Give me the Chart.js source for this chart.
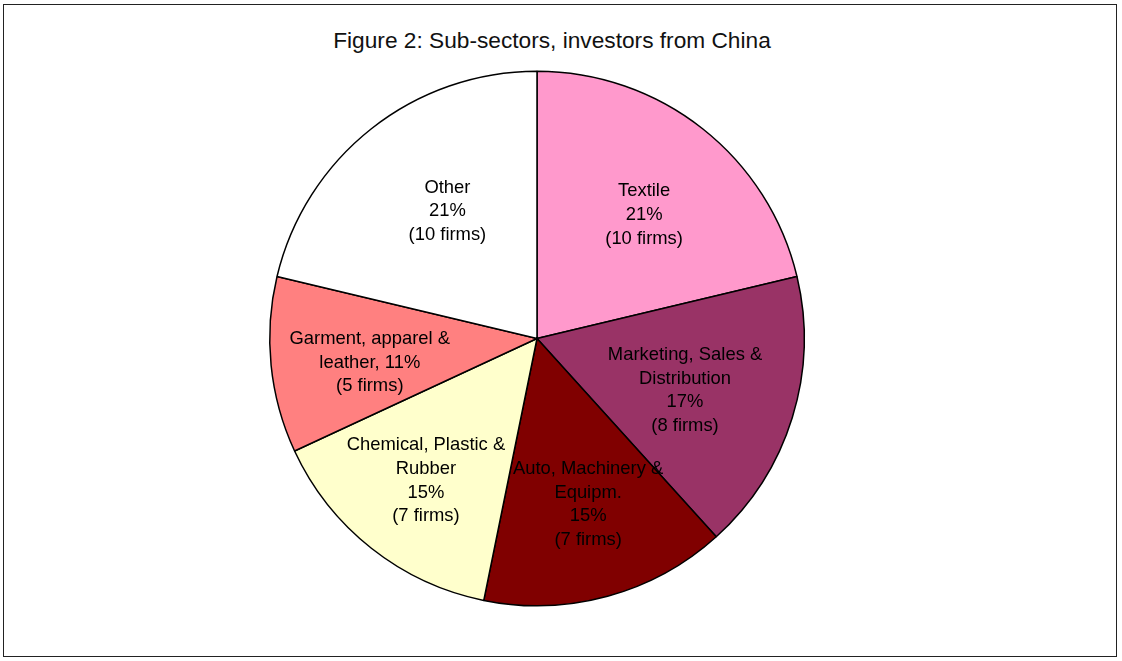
<!DOCTYPE html>
<html>
<head>
<meta charset="utf-8">
<script src="https://cdn.jsdelivr.net/npm/chart.js@4.4.1/dist/chart.umd.min.js"></script>
<style>
  html, body { margin: 0; padding: 0; background: #fff; }
  #wrap { position: relative; width: 1122px; height: 661px; }
  #frame { position: absolute; left: 3px; top: 4px; width: 1114px; height: 653px; border: 1.5px solid #222; box-sizing: border-box; }
  #title { position: absolute; left: 0; width: 1104px; top: 27px; text-align: center; font-family: "Liberation Sans", Arial, sans-serif; font-size: 22.7px; color: #111; }
  canvas { position: absolute; left: 0; top: 0; }
</style>
</head>
<body>
<div id="wrap">
  <div id="frame"></div>
  <div id="title">Figure 2: Sub-sectors, investors from China</div>
  <canvas id="c" width="1122" height="661"></canvas>
</div>
<script>
const categories = ["Textile", "Marketing, Sales & Distribution", "Auto, Machinery & Equipm.", "Chemical, Plastic & Rubber", "Garment, apparel & leather", "Other"];
const firms = [10, 8, 7, 7, 5, 10];
const labelLines = [
  ["Textile"],
  ["Marketing, Sales &", "Distribution"],
  ["Auto, Machinery &", "Equipm."],
  ["Chemical, Plastic &", "Rubber"],
  ["Garment, apparel &", "leather, {p}"],
  ["Other"]
];
const colors = ["#FF99CC", "#993366", "#800000", "#FFFFCC", "#FF8080", "#FFFFFF"];

const total = firms.reduce((a, b) => a + b, 0);

const labelPlugin = {
  id: 'sliceLabels',
  afterDatasetsDraw(chart, args, opts) {
    const ctx = chart.ctx;
    const meta = chart.getDatasetMeta(0);
    ctx.save();
    ctx.font = opts.font;
    ctx.fillStyle = '#000';
    ctx.textAlign = 'center';
    ctx.textBaseline = 'middle';
    meta.data.forEach((arc, i) => {
      const p = arc.getProps(['x', 'y', 'startAngle', 'endAngle', 'outerRadius'], true);
      const mid = (p.startAngle + p.endAngle) / 2 + opts.angleShift[i] * Math.PI / 180;
      const f = opts.factors[i];
      const cx = p.x + Math.cos(mid) * p.outerRadius * f;
      const cy = p.y + Math.sin(mid) * p.outerRadius * f;
      const pct = Math.round(firms[i] / total * 100) + '%';
      let lines = labelLines[i].map(s => s.replace('{p}', pct));
      if (!labelLines[i].some(s => s.includes('{p}'))) lines.push(pct);
      lines.push('(' + firms[i] + ' firms)');
      const lh = opts.lineHeight;
      const y0 = cy - (lines.length - 1) * lh / 2;
      lines.forEach((t, k) => ctx.fillText(t, cx, y0 + k * lh));
    });
    ctx.restore();
  }
};

new Chart(document.getElementById('c'), {
  type: 'pie',
  data: {
    labels: categories,
    datasets: [{
      data: firms,
      backgroundColor: colors,
      borderColor: '#000',
      borderWidth: 1.5
    }]
  },
  options: {
    responsive: false,
    animation: false,
    rotation: 0,
    layout: { padding: { left: 269, top: 70.5, right: 317, bottom: 54.5 } },
    plugins: {
      legend: { display: false },
      title: { display: false },
      tooltip: { enabled: false },
      sliceLabels: {
        font: '18.4px "Liberation Sans", Arial, sans-serif',
        lineHeight: 23.6,
        factors: [0.612, 0.587, 0.65, 0.675, 0.632, 0.583],
        angleShift: [2.6, 2.1, -1.8, -0.3, -2.4, 3.2]
      }
    }
  },
  plugins: [labelPlugin]
});
</script>
</body>
</html>
